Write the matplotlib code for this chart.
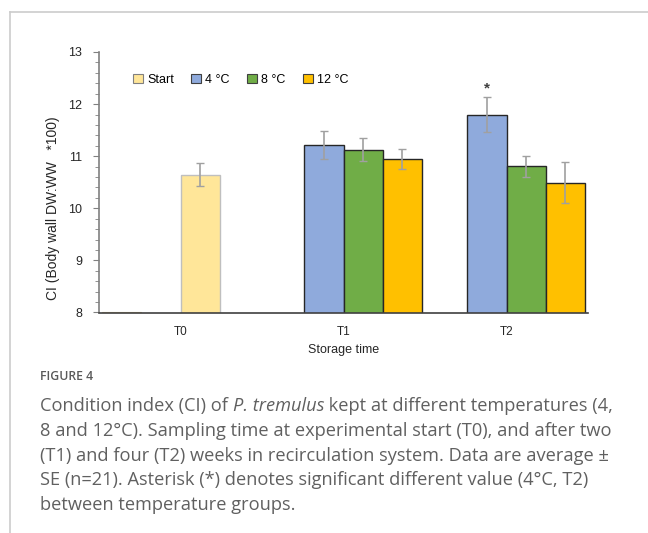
import matplotlib
matplotlib.use("Agg")
import matplotlib.pyplot as plt
from matplotlib.lines import Line2D
from matplotlib.patches import Patch
import numpy as np

# ---- data ----
groups = ["T0", "T1", "T2"]
series_names = ["Start", "4 °C", "8 °C", "12 °C"]
start_vals = [10.64]
start_err = [0.22]
t4_vals = [11.21, 11.80]
t4_err = [0.27, 0.33]
t8_vals = [11.12, 10.81]
t8_err = [0.22, 0.20]
t12_vals = [10.95, 10.49]
t12_err = [0.19, 0.39]
colors = ["#FFE699", "#8FAADC", "#70AD47", "#FFC000"]
yticks = [8, 9, 10, 11, 12, 13]

fig = plt.figure(figsize=(6.48, 5.33), dpi=100)
plt.rcParams['font.family'] = ['Liberation Sans', 'DejaVu Sans']

ax = fig.add_axes([99/648, 1-312.5/533, 489/648, 260.5/533])

w = 0.24
x = np.arange(len(groups))
ecol = "#A0A0A0"
ekw = dict(ecolor=ecol, elinewidth=1.2, capsize=2.6, capthick=1.0)

# start series at T0 (3rd slot)
ax.bar(x[0] + 0.5*w, start_vals, w, color=colors[0], edgecolor="#BFBFBF",
       linewidth=1.0, yerr=start_err, error_kw=ekw, zorder=2)
# empty-value marker at T0 first slot
ax.bar(x[0] - 1.5*w, [8.0], w, color="none", edgecolor="#D9C08A", linewidth=0.8, zorder=1)

xs = x[1:]
ax.bar(xs - 0.5*w, t4_vals, w, color=colors[1], edgecolor="#262626", linewidth=1.0,
       yerr=t4_err, error_kw=ekw, zorder=2)
ax.bar(xs + 0.5*w, t8_vals, w, color=colors[2], edgecolor="#262626", linewidth=1.0,
       yerr=t8_err, error_kw=ekw, zorder=2)
ax.bar(xs + 1.5*w, t12_vals, w, color=colors[3], edgecolor="#262626", linewidth=1.0,
       yerr=t12_err, error_kw=ekw, zorder=2)

# asterisk
ax.text(xs[1] - 0.5*w, t4_vals[1] + t4_err[1] + 0.17, "*", ha="center", va="center",
        fontsize=11, color="#404040", weight="bold")

ax.set_xlim(-0.5, 2.5)
ax.set_ylim(8, 13)
ax.set_yticks(yticks)
ax.set_yticks(np.arange(8, 13.01, 0.2), minor=True)
ax.set_xticks(x)
ax.set_xticklabels(groups)
for s in ["top", "right"]:
    ax.spines[s].set_visible(False)
ax.spines["left"].set_color("#808080")
ax.spines["bottom"].set_color("#404040")
ax.spines["left"].set_linewidth(1.2)
ax.spines["bottom"].set_linewidth(1.2)
ax.tick_params(axis="y", which="major", length=4, color="#808080", labelsize=9,
               labelcolor="#262626", pad=8)
ax.tick_params(axis="y", which="minor", length=3, color="#808080")
ax.tick_params(axis="x", length=0, labelsize=8.5, labelcolor="#262626", pad=10)
ax.set_xlabel("Storage time", fontsize=9, color="#262626", labelpad=4)
ax.set_ylabel("CI (Body wall DW:WW   *100)", fontsize=10, color="#262626")
ax.yaxis.set_label_coords(-39/489, 0.40)

handles = [Patch(facecolor=c, edgecolor="#404040" if i else "#808080", linewidth=0.8)
           for i, c in enumerate(colors)]
ax.legend(handles, series_names, loc="upper left", bbox_to_anchor=(0.06, 0.935),
          ncol=4, frameon=False, fontsize=9, handlelength=0.8, handleheight=0.8,
          handletextpad=0.3, columnspacing=1.4, borderaxespad=0)

# frame lines
fig.add_artist(Line2D([10/648, 10/648], [0, 1-12/533], color="#CCCCCC", lw=1.2))
fig.add_artist(Line2D([10/648, 1], [1-12/533, 1-12/533], color="#CCCCCC", lw=1.2))

# caption
capcol = "#606060"
fig.text(40/648, 1-380/533, "FIGURE 4", fontsize=8.8, color="#5A5A5A",
         family=["Open Sans", "DejaVu Sans"], weight="semibold", va="baseline")
cfont = dict(fontsize=13.15, color=capcol, family=["Open Sans", "DejaVu Sans"])
y0 = 411
t1 = fig.text(40/648, 1-y0/533, "Condition index (CI) of ", va="baseline", **cfont)
a = fig.add_artist(plt.Annotation("P. tremulus", xy=(1, 0), xycoords=t1, xytext=(0, 0),
                                  textcoords="offset points", va="bottom", ha="left",
                                  style="italic", **cfont))
fig.add_artist(plt.Annotation(" kept at different temperatures (4,", xy=(1, 0), xycoords=a,
                              va="bottom", ha="left", **cfont))
lines = [
    "8 and 12°C). Sampling time at experimental start (T0), and after two",
    "(T1) and four (T2) weeks in recirculation system. Data are average ±",
    "SE (n=21). Asterisk (*) denotes significant different value (4°C, T2)",
    "between temperature groups.",
]
for i, ln in enumerate(lines):
    fig.text(40/648, 1-(y0 + 24.8*(i+1))/533, ln, va="baseline", **cfont)

fig.savefig("out.png", dpi=100)
